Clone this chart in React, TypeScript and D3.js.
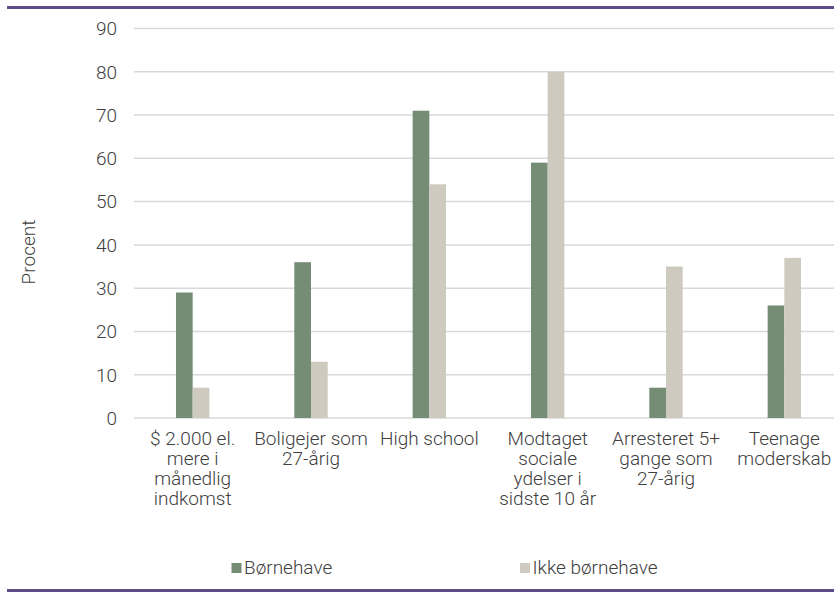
import React from "react";
import * as d3 from "d3";

const categories: string[][] = [
  ["$ 2.000 el.", "mere i", "månedlig", "indkomst"],
  ["Boligejer som", "27-årig"],
  ["High school"],
  ["Modtaget", "sociale", "ydelser i", "sidste 10 år"],
  ["Arresteret 5+", "gange som", "27-årig"],
  ["Teenage", "moderskab"],
];
const seriesNames = ["Børnehave", "Ikke børnehave"];
const boernehave = [29, 36, 71, 59, 7, 26];
const ikkeBoernehave = [7, 13, 54, 80, 35, 37];
const yTicks = [0, 10, 20, 30, 40, 50, 60, 70, 80, 90];
const yLabel = "Procent";

const W = 834;
const H = 592;
const colors = ["#748d74", "#cecabf"];
const textColor = "#404040";
const purple = "#5e4c87";
const font = "Roboto, 'Noto Sans', sans-serif";

export default function App() {
  const keys = categories.map((c) => c.join(" "));
  const x0 = d3
    .scaleBand<string>()
    .domain(keys)
    .range([133.5, 843.5])
    .paddingInner(0.718)
    .paddingOuter(0.359);
  const x1 = d3
    .scaleBand<string>()
    .domain(seriesNames)
    .range([0, x0.bandwidth()]);
  const y = d3.scaleLinear().domain([0, 90]).range([418, 28.5]);
  const series = [boernehave, ikkeBoernehave];

  return (
    <svg
      width={W}
      height={H}
      style={{ position: "absolute", left: 0, top: 0, background: "#fff" }}
      fontFamily={font}
    >
      <rect x={7} y={6} width={W - 7} height={3} fill={purple} />
      <rect x={7} y={589} width={W - 7} height={3} fill={purple} />
      {yTicks.map((t) => (
        <g key={t}>
          <line
            x1={134}
            x2={W}
            y1={y(t)}
            y2={y(t)}
            stroke="#d9d9d9"
            strokeWidth={1.5}
          />
          <text
            x={117}
            y={y(t)}
            dy="0.36em"
            textAnchor="end"
            fontSize={19}
            fontWeight={300}
            fill={textColor}
          >
            {t}
          </text>
        </g>
      ))}
      <text
        transform={`translate(35,252) rotate(-90)`}
        textAnchor="middle"
        fontSize={19}
        fontWeight={300}
        fill={textColor}
      >
        {yLabel}
      </text>
      {keys.map((k, i) => (
        <g key={k} transform={`translate(${x0(k)},0)`}>
          {seriesNames.map((s, j) => (
            <rect
              key={s}
              x={x1(s)}
              width={x1.bandwidth()}
              y={y(series[j][i])}
              height={y(0) - y(series[j][i])}
              fill={colors[j]}
            />
          ))}
        </g>
      ))}
      {keys.map((k, i) => {
        const cx = (x0(k) as number) + x0.bandwidth() / 2;
        return (
          <text
            key={k}
            x={cx}
            y={445}
            textAnchor="middle"
            fontSize={19}
            fontWeight={300}
            fill={textColor}
          >
            {categories[i].map((line, li) => (
              <tspan key={li} x={cx} y={445 + li * 20}>
                {line}
              </tspan>
            ))}
          </text>
        );
      })}
      {seriesNames.map((s, j) => {
        const lx = [231.5, 520][j];
        return (
          <g key={s}>
            <rect x={lx} y={563} width={10} height={10} fill={colors[j]} />
            <text
              x={lx + 12.5}
              y={573.5}
              fontSize={19}
              fontWeight={300}
              fill={textColor}
            >
              {s}
            </text>
          </g>
        );
      })}
    </svg>
  );
}
